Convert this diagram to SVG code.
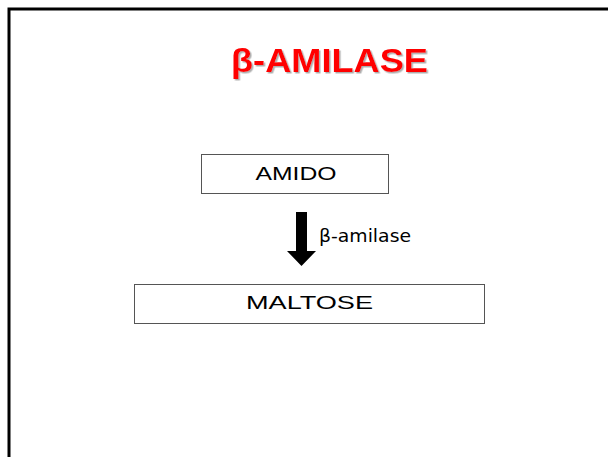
<svg xmlns="http://www.w3.org/2000/svg" width="608" height="457" viewBox="0 0 608 457">
  <defs>
    <filter id="shadow" x="-10%" y="-20%" width="120%" height="150%">
      <feDropShadow dx="1.5" dy="1.5" stdDeviation="0.6" flood-color="#9a9a9a" flood-opacity="0.8"/>
    </filter>
  </defs>
  <style>
    .box { fill: #ffffff; stroke: #555555; stroke-width: 1; }
    .label { font-family: "Liberation Sans", Arial, sans-serif; font-size: 18px; fill: #000000; text-anchor: middle; }
    .title { font-family: "Liberation Sans", Arial, sans-serif; font-size: 33px; font-weight: bold; fill: #ff0000; }
    .edge-label { font-family: "DejaVu Sans", "Liberation Sans", sans-serif; font-size: 18px; fill: #000000; }
  </style>
  <rect x="0" y="0" width="608" height="457" fill="#ffffff"/>
  <!-- slide frame -->
  <rect x="9" y="9" width="610" height="460" fill="none" stroke="#000000" stroke-width="3"/>

  <!-- title with drop shadow -->
  <g id="title">
    <text class="title" x="231" y="72" textLength="197" lengthAdjust="spacingAndGlyphs" filter="url(#shadow)">β-AMILASE</text>
  </g>

  <g id="amido">
    <rect class="box" x="201.5" y="154.5" width="187" height="39"/>
    <text class="label" x="296" y="180" textLength="81" lengthAdjust="spacingAndGlyphs">AMIDO</text>
  </g>

  <g id="maltose">
    <rect class="box" x="134.5" y="284.5" width="350" height="39"/>
    <text class="label" x="309.5" y="309" textLength="127" lengthAdjust="spacingAndGlyphs">MALTOSE</text>
  </g>

  <g id="connectors">
    <path d="M296,212 H307 V251 H316 L301.5,266 L287,251 H296 Z" fill="#000000"/>
    <text class="edge-label" x="319" y="242" textLength="92" lengthAdjust="spacingAndGlyphs">β-amilase</text>
  </g>
</svg>
